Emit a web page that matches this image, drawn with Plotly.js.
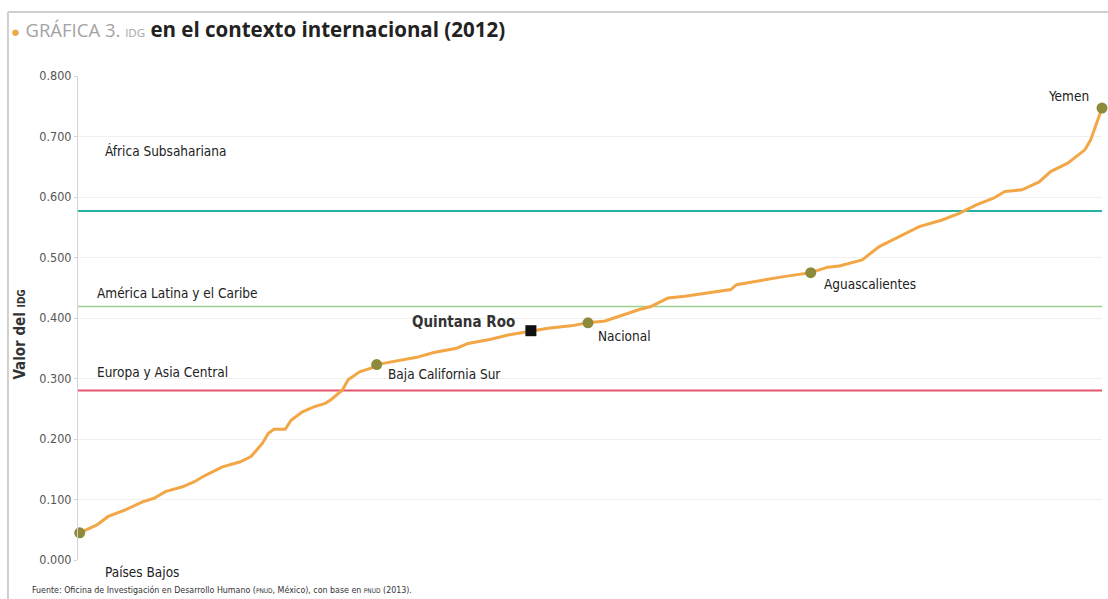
<!DOCTYPE html>
<html>
<head>
<meta charset="utf-8">
<script src="https://cdn.plot.ly/plotly-3.0.1.min.js"></script>
<style>
  html, body { margin: 0; padding: 0; background: #ffffff; }
  #chart { width: 1108px; height: 599px; }
</style>
</head>
<body>
<div id="chart"></div>
<script>
// Sorted IDG values (rank position along the curve, value)
const ranks = [1, 4, 6, 9, 12, 14, 16, 19, 21, 23, 26, 29, 31, 33, 34, 35, 37, 38, 40, 42, 44, 45, 47, 48, 50, 52, 53,
  56, 60, 63, 67, 69, 73, 76, 80, 83, 87, 90, 93, 96, 99, 101, 104, 107, 111, 115, 116, 119, 124, 129,
  132, 134, 138, 141, 145, 148, 152, 155, 158, 161, 163, 166, 169, 171, 174, 177, 178, 179, 180];
const idg = [0.045, 0.058, 0.072, 0.083, 0.096, 0.102, 0.113, 0.121, 0.129, 0.140, 0.154, 0.162, 0.171, 0.193, 0.209, 0.216, 0.216, 0.231, 0.245, 0.253, 0.259, 0.265, 0.281, 0.298, 0.311, 0.317, 0.323,
  0.328, 0.335, 0.343, 0.350, 0.358, 0.365, 0.372, 0.379, 0.383, 0.387, 0.392, 0.395, 0.405, 0.414, 0.419, 0.433, 0.436, 0.442, 0.447, 0.455, 0.460, 0.468, 0.475,
  0.484, 0.486, 0.496, 0.518, 0.537, 0.551, 0.562, 0.573, 0.587, 0.598, 0.609, 0.612, 0.625, 0.642, 0.656, 0.678, 0.694, 0.722, 0.747];

// Highlighted countries / entities
const pointNames = ["Países Bajos", "Baja California Sur", "Nacional", "Aguascalientes", "Yemen"];
const pointRanks = [1, 53, 90, 129, 180];
const pointValues = [0.045, 0.323, 0.392, 0.475, 0.747];

const stateName = "Quintana Roo";
const stateRank = 80;
const stateValue = 0.379;

// Regional averages
const regionNames = ["África Subsahariana", "América Latina y el Caribe", "Europa y Asia Central"];
const regionValues = [0.577, 0.419, 0.280];
const regionColors = ["#27b0a4", "#9ed08c", "#e4566c"];
const regionWidths = [2, 1.5, 2];

const yTicks = [0, 0.1, 0.2, 0.3, 0.4, 0.5, 0.6, 0.7, 0.8];

const labelFont = "'Liberation Sans Narrow', 'DejaVu Sans Condensed', 'Roboto', sans-serif";

const traces = [
  {
    x: ranks, y: idg, type: "scatter", mode: "lines",
    line: { color: "#f3a646", width: 3 },
    hoverinfo: "skip", showlegend: false
  },
  {
    x: pointRanks, y: pointValues, type: "scatter", mode: "markers",
    marker: { color: "#8e8a3c", size: 11 },
    text: pointNames, hoverinfo: "text", showlegend: false, cliponaxis: false
  },
  {
    x: [stateRank], y: [stateValue], type: "scatter", mode: "markers",
    marker: { color: "#111111", size: 11, symbol: "square" },
    text: [stateName], hoverinfo: "text", showlegend: false, cliponaxis: false
  }
];

const shapes = regionValues.map((v, i) => ({
  type: "line", xref: "paper", yref: "y", x0: 0, x1: 1, y0: v, y1: v,
  line: { color: regionColors[i], width: regionWidths[i] }, layer: "below"
}));
// Outer frame
shapes.push({ type: "line", xref: "paper", yref: "paper", x0: -0.0684, x1: 1.01, y0: 1.132, y1: 1.132,
  line: { color: "#cfcfcf", width: 2 } });
shapes.push({ type: "line", xref: "paper", yref: "paper", x0: -0.0684, x1: -0.0684, y0: 1.132, y1: -0.09,
  line: { color: "#cfcfcf", width: 2 } });

const annotations = [];
// Region labels
const regionLabelY = [0.676, 0.441, 0.311];
regionNames.forEach((n, i) => {
  annotations.push({ text: n, x: i === 0 ? 0.024 : 0.017, xref: "paper", y: regionLabelY[i], yref: "y",
    xanchor: "left", yanchor: "middle", showarrow: false,
    font: { family: labelFont, size: 13.5, color: "#222" } });
});
// Point labels (Países Bajos sits below the axis, so it is placed in paper units)
const pointLabelDX = [4, 1.6, 1.4, 2, -2];
const pointLabelY = [-0.0248, 0.307, 0.370, 0.456, 0.767];
const pointAnchor = ["left", "left", "left", "left", "right"];
pointNames.forEach((n, i) => {
  const onPaper = i === 0;
  annotations.push({ text: n, x: pointRanks[i] + pointLabelDX[i], xref: "x",
    y: pointLabelY[i], yref: onPaper ? "paper" : "y",
    xanchor: pointAnchor[i], yanchor: "middle", showarrow: false,
    font: { family: labelFont, size: 13.5, color: "#222" } });
});
annotations.push({ text: "<b>" + stateName + "</b>", x: stateRank - 2.5, xref: "x", y: 0.393, yref: "y",
  xanchor: "right", yanchor: "middle", showarrow: false,
  font: { family: labelFont, size: 15, color: "#333" } });
// Y-axis title
annotations.push({ text: "<b>Valor del <span style='font-size:10px'>IDG</span></b>", x: -0.057, xref: "paper",
  y: 0.465, yref: "paper", textangle: -90, showarrow: false, xanchor: "center", yanchor: "middle",
  font: { family: labelFont, size: 15, color: "#333" } });
// Source
annotations.push({ text: "Fuente: Oficina de Investigación en Desarrollo Humano (<span style='font-size:6.5px'>PNUD</span>, México), con base en <span style='font-size:6.5px'>PNUD</span> (2013).",
  x: -0.047, xref: "paper", y: -0.062, yref: "paper", xanchor: "left", yanchor: "middle", showarrow: false,
  font: { family: labelFont, size: 8.8, color: "#333" } });

const layout = {
  width: 1108, height: 599,
  margin: { l: 78, r: 6, t: 76, b: 39 },
  paper_bgcolor: "#ffffff", plot_bgcolor: "#ffffff",
  title: {
    text: "<span style='color:#eaa94a;font-size:15px'>●</span> <span style='color:#a3a3a3;font-size:18.5px'>GRÁFICA 3. <span style='font-size:11.5px'>IDG</span></span> <b>en el contexto internacional (2012)</b>",
    xref: "container", yref: "container", x: 0.010, y: 0.95, xanchor: "left", yanchor: "middle",
    font: { family: "'Open Sans', 'Liberation Sans', sans-serif", size: 20.5, color: "#222" }
  },
  xaxis: { range: [0.7, 180], showgrid: false, zeroline: false, showticklabels: false, showline: false, ticks: "" },
  yaxis: {
    range: [0, 0.8], tickvals: yTicks, tickformat: ".3f",
    showgrid: true, gridcolor: "#f0f0f0", gridwidth: 1, zeroline: false,
    showline: true, linecolor: "#d4d4d4", linewidth: 1,
    ticks: "outside", ticklen: 3, tickcolor: "#d4d4d4",
    tickfont: { family: labelFont, size: 12.5, color: "#555" }
  },
  shapes: shapes,
  annotations: annotations,
  showlegend: false
};

Plotly.newPlot("chart", traces, layout, { displayModeBar: false, staticPlot: true });
</script>
</body>
</html>
